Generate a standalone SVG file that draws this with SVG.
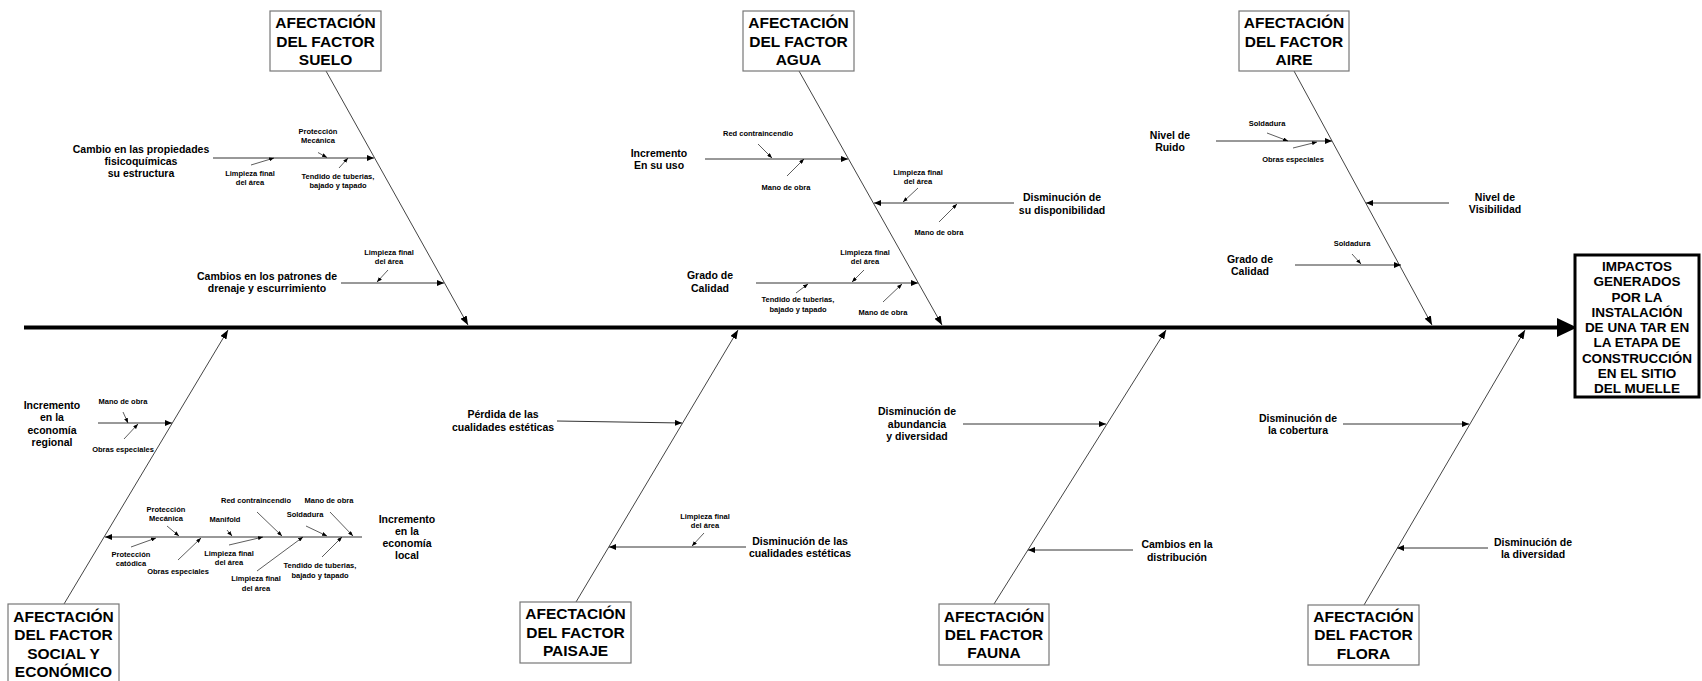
<svg xmlns="http://www.w3.org/2000/svg" width="1702" height="681" viewBox="0 0 1702 681">
<style>
text{font-family:"Liberation Sans",Arial,sans-serif;font-weight:bold;fill:#000;text-anchor:middle;dominant-baseline:central}
.t1{font-size:15.5px}
.t2{font-size:10.5px}
.t3{font-size:7.5px}
.th{font-size:13.5px}
.box{fill:#fff;stroke:#777;stroke-width:1.2}
.head{fill:#fff;stroke:#000;stroke-width:3}
.bone{stroke:#444;stroke-width:1;fill:none;marker-end:url(#ab)}
.c{stroke:#333;stroke-width:1;fill:none;marker-end:url(#am)}
.s{stroke:#333;stroke-width:0.8;fill:none;marker-end:url(#as)}
</style>
<defs>
<marker id="ab" markerUnits="userSpaceOnUse" markerWidth="9" markerHeight="7" refX="9" refY="3.5" orient="auto"><path d="M0,0 L9,3.5 L0,7 z" fill="#000"/></marker>
<marker id="am" markerUnits="userSpaceOnUse" markerWidth="7" markerHeight="6" refX="7" refY="3" orient="auto"><path d="M0,0 L7,3 L0,6 z" fill="#000"/></marker>
<marker id="as" markerUnits="userSpaceOnUse" markerWidth="5" markerHeight="4" refX="5" refY="2" orient="auto"><path d="M0,0 L5,2 L0,4 z" fill="#000"/></marker>
</defs>

<g id="connectors">
<line x1="24" y1="327.5" x2="1560" y2="327.5" stroke="#000" stroke-width="4"/>
<polygon points="1557,318 1577,327.5 1557,337" fill="#000"/>
<!-- bones -->
<line class="bone" x1="326" y1="71" x2="468" y2="325"/>
<line class="bone" x1="799" y1="71" x2="942" y2="325"/>
<line class="bone" x1="1294" y1="71" x2="1432" y2="325"/>
<line class="bone" x1="64" y1="604" x2="228" y2="330"/>
<line class="bone" x1="576" y1="602" x2="738" y2="330"/>
<line class="bone" x1="994" y1="604" x2="1166" y2="330"/>
<line class="bone" x1="1364" y1="605" x2="1525" y2="330"/>
<!-- suelo -->
<line class="c" x1="213" y1="158" x2="374" y2="158"/>
<line class="s" x1="251" y1="165" x2="274" y2="158"/>
<line class="s" x1="318" y1="152.5" x2="327" y2="157.5"/>
<line class="s" x1="339" y1="168" x2="348" y2="158"/>
<line class="c" x1="341" y1="283" x2="444" y2="283"/>
<line class="s" x1="388" y1="270" x2="377" y2="282"/>
<!-- agua -->
<line class="c" x1="705" y1="159" x2="848" y2="159"/>
<line class="s" x1="758" y1="144" x2="772" y2="158"/>
<line class="s" x1="787" y1="176" x2="804" y2="159"/>
<line class="c" x1="1014" y1="203" x2="874" y2="203"/>
<line class="s" x1="918" y1="188" x2="903" y2="202"/>
<line class="s" x1="939" y1="222" x2="957" y2="204"/>
<line class="c" x1="756" y1="283" x2="918" y2="283"/>
<line class="s" x1="864" y1="270" x2="852" y2="282"/>
<line class="s" x1="796" y1="293" x2="808" y2="284"/>
<line class="s" x1="883" y1="302" x2="902" y2="284"/>
<!-- aire -->
<line class="c" x1="1216" y1="141" x2="1332" y2="141"/>
<line class="s" x1="1267" y1="133" x2="1288" y2="141"/>
<line class="s" x1="1293" y1="148" x2="1317" y2="142"/>
<line class="c" x1="1449" y1="203" x2="1366" y2="203"/>
<line class="c" x1="1295" y1="265" x2="1401" y2="265"/>
<line class="s" x1="1352" y1="254" x2="1361" y2="264"/>
<!-- social -->
<line class="c" x1="98" y1="423" x2="172" y2="423"/>
<line class="s" x1="123" y1="412" x2="128" y2="423"/>
<line class="s" x1="124" y1="439" x2="138" y2="424"/>
<line class="c" x1="362" y1="537" x2="105" y2="537"/>
<line class="s" x1="167" y1="526" x2="179" y2="536"/>
<line class="s" x1="131" y1="547" x2="156" y2="538"/>
<line class="s" x1="178" y1="560" x2="201" y2="538"/>
<line class="s" x1="227" y1="530" x2="232" y2="536"/>
<line class="s" x1="229" y1="545" x2="263" y2="537"/>
<line class="s" x1="257" y1="512" x2="282" y2="536"/>
<line class="s" x1="257" y1="571" x2="303" y2="537"/>
<line class="s" x1="306" y1="526" x2="327" y2="536"/>
<line class="s" x1="330" y1="512" x2="353" y2="536"/>
<line class="s" x1="322" y1="557" x2="342" y2="537"/>
<!-- paisaje -->
<line class="c" x1="557" y1="421" x2="682" y2="423"/>
<line class="c" x1="746" y1="547" x2="609" y2="547"/>
<line class="s" x1="704" y1="533" x2="692" y2="546"/>
<!-- fauna -->
<line class="c" x1="963" y1="424" x2="1106" y2="424"/>
<line class="c" x1="1133" y1="550" x2="1028" y2="550"/>
<!-- flora -->
<line class="c" x1="1343" y1="424" x2="1469" y2="424"/>
<line class="c" x1="1488" y1="548" x2="1397" y2="548"/>
</g>

<g id="head">
<rect class="head" x="1575" y="255" width="124" height="142"/>
<text class="th"><tspan x="1637" y="266">IMPACTOS</tspan><tspan x="1637" y="281.3">GENERADOS</tspan><tspan x="1637" y="296.5">POR LA</tspan><tspan x="1637" y="311.8">INSTALACIÓN</tspan><tspan x="1637" y="327">DE UNA TAR EN</tspan><tspan x="1637" y="342.3">LA ETAPA DE</tspan><tspan x="1637" y="357.5">CONSTRUCCIÓN</tspan><tspan x="1637" y="372.8">EN EL SITIO</tspan><tspan x="1637" y="388">DEL MUELLE</tspan></text>
</g>

<g id="suelo">
<rect class="box" x="270" y="11" width="111" height="60"/>
<text class="t1"><tspan x="325.5" y="22">AFECTACIÓN</tspan><tspan x="325.5" y="40.5">DEL FACTOR</tspan><tspan x="325.5" y="59">SUELO</tspan></text>
<text class="t2"><tspan x="141" y="149">Cambio en las propiedades</tspan><tspan x="141" y="161">fisicoquímicas</tspan><tspan x="141" y="173">su estructura</tspan></text>
<text class="t3"><tspan x="318" y="131">Protección</tspan><tspan x="318" y="139.5">Mecánica</tspan></text>
<text class="t3"><tspan x="250" y="173">Limpieza final</tspan><tspan x="250" y="182">del área</tspan></text>
<text class="t3"><tspan x="338" y="176">Tendido de tuberias,</tspan><tspan x="338" y="184.5">bajado y tapado</tspan></text>
<text class="t2"><tspan x="267" y="276">Cambios en los patrones de</tspan><tspan x="267" y="288">drenaje y escurrimiento</tspan></text>
<text class="t3"><tspan x="389" y="252">Limpieza final</tspan><tspan x="389" y="261">del área</tspan></text>
</g>

<g id="agua">
<rect class="box" x="743" y="11" width="111" height="60"/>
<text class="t1"><tspan x="798.5" y="22">AFECTACIÓN</tspan><tspan x="798.5" y="40.5">DEL FACTOR</tspan><tspan x="798.5" y="59">AGUA</tspan></text>
<text class="t2"><tspan x="659" y="153">Incremento</tspan><tspan x="659" y="165">En su uso</tspan></text>
<text class="t3"><tspan x="758" y="133">Red contraincendio</tspan></text>
<text class="t3"><tspan x="786" y="187">Mano de obra</tspan></text>
<text class="t2"><tspan x="1062" y="197">Disminución de</tspan><tspan x="1062" y="210">su disponibilidad</tspan></text>
<text class="t3"><tspan x="918" y="172">Limpieza final</tspan><tspan x="918" y="181">del área</tspan></text>
<text class="t3"><tspan x="939" y="232">Mano de obra</tspan></text>
<text class="t2"><tspan x="710" y="275">Grado de</tspan><tspan x="710" y="288">Calidad</tspan></text>
<text class="t3"><tspan x="865" y="252">Limpieza final</tspan><tspan x="865" y="261">del área</tspan></text>
<text class="t3"><tspan x="798" y="299">Tendido de tuberias,</tspan><tspan x="798" y="309">bajado y tapado</tspan></text>
<text class="t3"><tspan x="883" y="312">Mano de obra</tspan></text>
</g>

<g id="aire">
<rect class="box" x="1239" y="11" width="110" height="60"/>
<text class="t1"><tspan x="1294" y="22">AFECTACIÓN</tspan><tspan x="1294" y="40.5">DEL FACTOR</tspan><tspan x="1294" y="59">AIRE</tspan></text>
<text class="t2"><tspan x="1170" y="135">Nivel de</tspan><tspan x="1170" y="147">Ruido</tspan></text>
<text class="t3"><tspan x="1267" y="123">Soldadura</tspan></text>
<text class="t3"><tspan x="1293" y="159">Obras especiales</tspan></text>
<text class="t2"><tspan x="1495" y="197">Nivel de</tspan><tspan x="1495" y="209">Visibilidad</tspan></text>
<text class="t2"><tspan x="1250" y="259">Grado de</tspan><tspan x="1250" y="271">Calidad</tspan></text>
<text class="t3"><tspan x="1352" y="243">Soldadura</tspan></text>
</g>

<g id="social">
<rect class="box" x="8" y="604" width="111" height="90"/>
<text class="t1"><tspan x="63.5" y="616">AFECTACIÓN</tspan><tspan x="63.5" y="634.3">DEL FACTOR</tspan><tspan x="63.5" y="652.6">SOCIAL Y</tspan><tspan x="63.5" y="671">ECONÓMICO</tspan></text>
<text class="t2"><tspan x="52" y="405">Incremento</tspan><tspan x="52" y="417">en la</tspan><tspan x="52" y="429.5">economía</tspan><tspan x="52" y="442">regional</tspan></text>
<text class="t3"><tspan x="123" y="401">Mano de obra</tspan></text>
<text class="t3"><tspan x="123" y="449">Obras especiales</tspan></text>
<text class="t2"><tspan x="407" y="519">Incremento</tspan><tspan x="407" y="531">en la</tspan><tspan x="407" y="543">economía</tspan><tspan x="407" y="555">local</tspan></text>
<text class="t3"><tspan x="166" y="509">Protección</tspan><tspan x="166" y="518">Mecánica</tspan></text>
<text class="t3"><tspan x="131" y="554">Protección</tspan><tspan x="131" y="563">catódica</tspan></text>
<text class="t3"><tspan x="178" y="571">Obras especiales</tspan></text>
<text class="t3"><tspan x="225" y="519">Manifold</tspan></text>
<text class="t3"><tspan x="229" y="553">Limpieza final</tspan><tspan x="229" y="562">del área</tspan></text>
<text class="t3"><tspan x="256" y="500">Red contraincendio</tspan></text>
<text class="t3"><tspan x="256" y="578">Limpieza final</tspan><tspan x="256" y="588">del área</tspan></text>
<text class="t3"><tspan x="305" y="514">Soldadura</tspan></text>
<text class="t3"><tspan x="329" y="500">Mano de obra</tspan></text>
<text class="t3"><tspan x="320" y="565">Tendido de tuberias,</tspan><tspan x="320" y="575">bajado y tapado</tspan></text>
</g>

<g id="paisaje">
<rect class="box" x="520" y="602" width="111" height="61"/>
<text class="t1"><tspan x="575.5" y="613">AFECTACIÓN</tspan><tspan x="575.5" y="631.5">DEL FACTOR</tspan><tspan x="575.5" y="650">PAISAJE</tspan></text>
<text class="t2"><tspan x="503" y="414">Pérdida de las</tspan><tspan x="503" y="427">cualidades estéticas</tspan></text>
<text class="t2"><tspan x="800" y="541">Disminución de las</tspan><tspan x="800" y="553">cualidades estéticas</tspan></text>
<text class="t3"><tspan x="705" y="516">Limpieza final</tspan><tspan x="705" y="525">del área</tspan></text>
</g>

<g id="fauna">
<rect class="box" x="939" y="604" width="110" height="61"/>
<text class="t1"><tspan x="994" y="615.5">AFECTACIÓN</tspan><tspan x="994" y="633.5">DEL FACTOR</tspan><tspan x="994" y="652">FAUNA</tspan></text>
<text class="t2"><tspan x="917" y="411">Disminución de</tspan><tspan x="917" y="424">abundancia</tspan><tspan x="917" y="436">y diversidad</tspan></text>
<text class="t2"><tspan x="1177" y="544">Cambios en la</tspan><tspan x="1177" y="557">distribución</tspan></text>
</g>

<g id="flora">
<rect class="box" x="1308" y="605" width="111" height="60"/>
<text class="t1"><tspan x="1363.5" y="616">AFECTACIÓN</tspan><tspan x="1363.5" y="634">DEL FACTOR</tspan><tspan x="1363.5" y="652.5">FLORA</tspan></text>
<text class="t2"><tspan x="1298" y="418">Disminución de</tspan><tspan x="1298" y="430">la cobertura</tspan></text>
<text class="t2"><tspan x="1533" y="542">Disminución de</tspan><tspan x="1533" y="554">la diversidad</tspan></text>
</g>
</svg>
